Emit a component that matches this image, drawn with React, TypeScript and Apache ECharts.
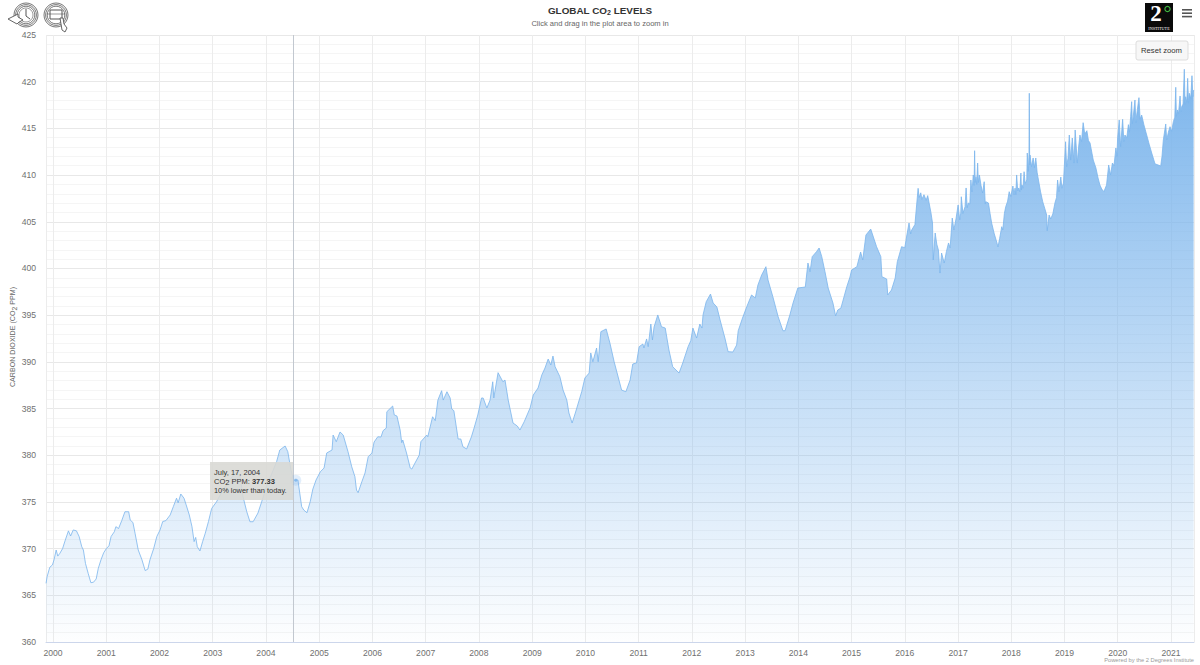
import React, { useEffect, useRef } from "react";
import * as echarts from "echarts";

const FONT = "Arial, 'Liberation Sans', Helvetica, sans-serif";

// [decimal year, CO2 ppm]
const readings2000to2004 = [
  [1999.87,366.28],[1999.89,367.0],[1999.94,368.0],[1999.99,368.25],[2000.02,368.8],[2000.06,369.85],[2000.09,369.2],[2000.13,369.5],[2000.18,370.0],[2000.23,370.9],[2000.29,371.9],[2000.33,371.35],[2000.38,372.0],[2000.44,371.9],[2000.49,371.3],[2000.54,370.2],[2000.57,369.85],[2000.61,368.4],[2000.66,367.35],[2000.71,366.35],[2000.76,366.4],[2000.81,366.75],[2000.85,367.9],[2000.90,368.8],[2000.95,369.55],
  [2001.0,370.0],[2001.05,370.3],[2001.09,371.3],[2001.15,371.8],[2001.18,372.35],[2001.23,372.15],[2001.29,373.0],[2001.35,373.95],[2001.42,373.95],[2001.45,373.05],[2001.50,372.8],[2001.54,371.65],[2001.60,369.85],[2001.67,368.8],[2001.73,367.65],[2001.78,367.8],[2001.82,368.8],[2001.89,370.0],[2001.95,371.3],
  [2002.01,372.0],[2002.06,372.9],[2002.12,373.0],[2002.20,373.6],[2002.26,374.5],[2002.32,375.4],[2002.35,374.9],[2002.40,375.85],[2002.46,375.4],[2002.50,374.7],[2002.56,373.6],[2002.61,372.35],[2002.65,370.75],[2002.68,371.2],[2002.71,370.2],[2002.76,369.75],[2002.81,370.75],[2002.86,371.65],[2002.92,372.9],[2002.98,374.3],
  [2003.07,375.0],[2003.17,376.06],[2003.29,377.13],[2003.42,378.1],[2003.51,377.88],[2003.57,375.56],[2003.64,373.95],[2003.70,372.88],[2003.76,372.88],[2003.85,373.81],[2003.92,375.02],
  [2004.01,376.63],[2004.20,379.31],[2004.26,380.56],[2004.36,380.99],[2004.41,380.38],[2004.47,378.42],[2004.52,377.33],[2004.60,377.35],[2004.67,374.49],[2004.71,374.13],[2004.77,373.84],[2004.83,375.02],[2004.88,376.38],[2004.94,377.35],
];
const readings2005to2009 = [
  [2005.02,378.23],[2005.09,378.63],[2005.14,380.24],[2005.24,380.56],[2005.26,382.16],[2005.32,381.45],[2005.39,382.49],[2005.45,382.16],[2005.54,380.38],[2005.61,378.77],[2005.67,377.7],[2005.70,376.27],[2005.73,375.99],[2005.80,377.16],[2005.86,378.1],[2005.92,379.84],[2005.99,380.24],
  [2006.03,381.41],[2006.10,381.98],[2006.16,381.95],[2006.20,382.63],[2006.26,382.91],[2006.27,384.66],[2006.38,385.27],[2006.41,384.31],[2006.46,384.2],[2006.52,382.7],[2006.55,381.34],[2006.57,381.63],[2006.64,380.24],[2006.71,378.63],[2006.74,378.52],[2006.80,379.17],[2006.88,380.02],[2006.91,381.45],
  [2007.02,382.16],[2007.04,381.98],[2007.13,384.12],[2007.18,383.7],[2007.23,385.91],[2007.30,386.91],[2007.33,385.91],[2007.40,386.8],[2007.46,386.13],[2007.49,384.95],[2007.53,384.77],[2007.61,381.74],[2007.66,381.74],[2007.70,380.91],[2007.77,380.67],[2007.86,381.98],[2007.91,382.91],[2007.98,384.31],
  [2008.05,386.13],[2008.08,386.13],[2008.15,385.06],[2008.21,385.91],[2008.26,387.87],[2008.28,386.13],[2008.36,388.84],[2008.45,387.87],[2008.49,388.05],[2008.55,385.91],[2008.64,383.45],[2008.72,383.13],[2008.77,382.7],[2008.85,383.59],[2008.96,385.06],
  [2009.02,386.45],[2009.11,387.2],[2009.18,388.59],[2009.24,389.34],[2009.30,390.3],[2009.35,389.66],[2009.39,390.62],[2009.43,389.48],[2009.52,388.41],[2009.58,386.98],[2009.65,385.91],[2009.69,384.52],[2009.75,383.45],[2009.81,384.52],[2009.93,386.8],[2009.99,388.27],
];
const readings2010to2014 = [
  [2010.07,388.8],[2010.10,390.95],[2010.14,390.01],[2010.21,391.48],[2010.24,390.01],[2010.29,393.23],[2010.39,393.52],[2010.46,392.02],[2010.54,390.01],[2010.68,386.98],[2010.76,386.8],[2010.84,388.05],[2010.89,389.77],[2010.96,389.88],
  [2011.01,391.62],[2011.08,391.91],[2011.10,391.48],[2011.15,392.45],[2011.18,391.62],[2011.23,394.05],[2011.26,392.34],[2011.29,393.73],[2011.36,395.02],[2011.43,393.76],[2011.50,393.62],[2011.57,391.27],[2011.64,389.48],[2011.76,388.8],[2011.83,389.88],[2011.93,391.62],[2011.98,392.26],
  [2012.02,393.62],[2012.09,392.55],[2012.15,394.05],[2012.19,393.62],[2012.21,395.02],[2012.27,396.44],[2012.35,397.26],[2012.40,396.3],[2012.47,395.87],[2012.53,394.48],[2012.62,392.55],[2012.68,391.09],[2012.77,391.05],[2012.84,391.8],[2012.87,393.33],[2012.95,394.69],
  [2013.03,395.9],[2013.12,397.16],[2013.19,396.84],[2013.24,398.23],[2013.31,399.3],[2013.39,400.19],[2013.43,398.76],[2013.52,396.98],[2013.62,394.83],[2013.71,393.33],[2013.75,393.33],[2013.84,395.02],[2013.90,396.3],[2013.99,397.91],
  [2014.13,398.01],[2014.18,400.58],[2014.22,399.65],[2014.26,401.26],[2014.34,401.79],[2014.39,402.19],[2014.44,401.26],[2014.50,399.65],[2014.56,397.91],[2014.65,396.3],[2014.70,394.91],[2014.74,395.55],[2014.80,395.76],[2014.91,398.05],[2014.97,399.08],
];
const readings2015to2017 = [
  [2015.00,399.83],[2015.10,400.19],[2015.17,401.76],[2015.21,400.91],[2015.27,403.58],[2015.36,404.22],[2015.47,402.33],[2015.55,401.26],[2015.57,399.12],[2015.66,398.87],[2015.68,397.16],[2015.75,397.69],[2015.82,398.98],[2015.86,400.72],[2015.94,402.33],
  [2016.00,402.22],[2016.04,403.6],[2016.08,404.87],[2016.11,403.7],[2016.13,404.12],[2016.19,404.7],[2016.25,408.58],[2016.27,407.6],[2016.30,408.1],[2016.32,407.4],[2016.36,407.9],[2016.40,407.3],[2016.43,407.8],[2016.46,406.9],[2016.49,406.0],[2016.52,404.87],[2016.534,400.91],[2016.57,403.8],[2016.60,402.6],[2016.63,401.98],[2016.66,399.51],[2016.69,401.65],[2016.74,400.58],[2016.78,401.8],[2016.82,402.73],[2016.85,402.2],[2016.89,405.4],[2016.92,404.12],[2016.96,405.3],
  [2017.00,406.8],[2017.03,405.2],[2017.05,405.94],[2017.06,407.68],[2017.09,405.9],[2017.13,406.61],[2017.15,408.62],[2017.17,406.5],[2017.19,407.01],[2017.22,406.9],[2017.24,409.47],[2017.26,408.2],[2017.285,410.01],[2017.30,408.9],[2017.31,412.61],[2017.32,409.2],[2017.336,409.83],[2017.35,409.0],[2017.367,411.29],[2017.38,409.2],[2017.40,410.01],[2017.43,408.9],[2017.46,408.08],[2017.49,409.29],[2017.51,406.9],[2017.52,407.15],[2017.57,407.01],[2017.60,405.9],[2017.63,404.87],[2017.68,403.7],[2017.725,402.83],[2017.75,402.3],[2017.78,403.2],[2017.82,404.47],[2017.84,404.12],[2017.87,405.9],[2017.895,406.61],[2017.93,407.2],[2017.96,408.22],[2017.99,407.7],
];
const readings2018to2021 = [
  [2018.03,408.83],[2018.05,407.9],[2018.07,408.6],[2018.085,407.9],[2018.10,410.01],[2018.12,408.3],[2018.14,408.62],[2018.16,408.2],[2018.18,410.22],[2018.19,408.4],[2018.20,408.94],[2018.22,408.6],[2018.24,410.36],[2018.26,409.1],[2018.29,409.47],[2018.30,412.36],[2018.32,410.4],[2018.332,412.15],[2018.338,418.76],[2018.345,411.1],[2018.351,412.15],[2018.38,410.9],[2018.41,411.83],[2018.435,410.8],[2018.46,411.83],[2018.485,410.3],[2018.51,409.47],[2018.55,408.2],[2018.59,407.15],[2018.63,406.4],[2018.664,405.72],[2018.675,404.04],[2018.71,405.72],[2018.74,405.3],[2018.78,405.83],[2018.82,407.01],[2018.85,407.6],[2018.87,409.47],[2018.895,408.22],[2018.93,409.79],[2018.95,408.6],[2018.98,409.15],
  [2019.02,413.57],[2019.04,410.9],[2019.065,411.8],[2019.09,414.29],[2019.115,411.61],[2019.146,413.97],[2019.178,411.29],[2019.20,414.83],[2019.24,411.29],[2019.265,413.0],[2019.29,414.29],[2019.32,413.6],[2019.35,415.61],[2019.38,414.4],[2019.42,414.75],[2019.45,413.7],[2019.48,413.43],[2019.54,411.61],[2019.59,410.76],[2019.63,409.7],[2019.665,408.94],[2019.70,408.5],[2019.74,408.22],[2019.79,408.94],[2019.83,411.08],[2019.866,410.01],[2019.90,411.29],[2019.93,411.0],[2019.966,412.9],[2019.985,412.0],[2019.998,413.97],
  [2020.028,415.9],[2020.054,413.04],[2020.092,415.97],[2020.115,413.6],[2020.135,414.29],[2020.17,414.0],[2020.20,415.4],[2020.22,414.6],[2020.242,416.25],[2020.261,417.86],[2020.275,415.5],[2020.291,416.25],[2020.323,418.04],[2020.34,415.6],[2020.355,416.43],[2020.398,418.29],[2020.42,416.0],[2020.449,416.43],[2020.49,415.4],[2020.543,414.29],[2020.59,413.3],[2020.637,412.36],[2020.70,411.19],[2020.75,411.1],[2020.806,410.97],[2020.83,412.0],[2020.855,413.76],[2020.90,415.47],[2020.918,413.76],[2020.95,414.6],[2020.98,415.18],[2021.01,414.7],
  [2021.043,415.72],[2021.07,416.2],[2021.088,419.4],[2021.10,416.3],[2021.118,416.97],[2021.14,416.6],[2021.169,418.47],[2021.185,416.8],[2021.20,417.32],[2021.225,417.6],[2021.249,421.33],[2021.262,417.6],[2021.275,418.39],[2021.295,417.8],[2021.312,420.36],[2021.328,417.7],[2021.343,418.76],[2021.37,418.2],[2021.393,420.64],[2021.41,418.4],[2021.424,419.11],
];
const highlightYear = [2004.56, 377.33];
const crosshairYear = 2004.52;
const axisStartYear = 1999.869;
const axisEndYear = 2021.431;
const tooltipLines = ["July, 17, 2004", "10% lower than today."];

function toMs(decimalYear: number) {
  const y = Math.floor(decimalYear);
  const a = Date.UTC(y, 0, 1);
  const b = Date.UTC(y + 1, 0, 1);
  return a + (decimalYear - y) * (b - a);
}

const seriesData = [
  ...readings2000to2004,
  ...readings2005to2009,
  ...readings2010to2014,
  ...readings2015to2017,
  ...readings2018to2021,
].map(([t, v]) => [toMs(t), v]);

const INK = "#555555";

function icons() {
  const ringSet = (cx: number, cy: number) =>
    [12, 10.4, 8.8].map((r) => ({
      type: "circle",
      shape: { cx, cy, r },
      style: { fill: "none", stroke: INK, lineWidth: 0.8 },
    }));
  return [
    ...ringSet(26, 15),
    { type: "circle", shape: { cx: 26, cy: 15, r: 7 }, style: { fill: "#fff", stroke: INK, lineWidth: 0.6 } },
    { type: "polyline", shape: { points: [[26, 9], [26, 16], [30, 19]] }, style: { stroke: INK, lineWidth: 1, fill: "none" } },
    { type: "polygon", shape: { points: [[8, 19], [18, 14], [18, 17], [23, 20], [19, 22], [17, 24]] }, style: { fill: "#fff", stroke: INK, lineWidth: 0.9 } },
    ...ringSet(56, 15),
    { type: "rect", shape: { x: 50, y: 10, width: 12, height: 9 }, style: { fill: "#fff", stroke: INK, lineWidth: 1 } },
    { type: "line", shape: { x1: 47, y1: 14, x2: 65, y2: 14 }, style: { stroke: INK, lineWidth: 0.6 } },
    { type: "polygon", shape: { points: [[60, 18], [63, 18], [64, 24], [67, 28], [65, 32], [62, 30], [61, 24]] }, style: { fill: "#fff", stroke: INK, lineWidth: 0.9 } },
  ];
}

function logo() {
  return [
    { type: "rect", shape: { x: 1145, y: 3, width: 28, height: 29 }, style: { fill: "#0a0a0a" } },
    { type: "text", x: 1156, y: 13.6, style: { text: "2", fill: "#fff", font: "bold 23px 'Liberation Serif', serif", textAlign: "center", textVerticalAlign: "middle" } },
    { type: "circle", shape: { cx: 1167.5, cy: 9, r: 2.6 }, style: { fill: "none", stroke: "#3fb53f", lineWidth: 1.2 } },
    { type: "text", x: 1159, y: 28.6, style: { text: "INSTITUTE", fill: "#fff", font: `4.2px 'Liberation Serif', serif`, textAlign: "center", textVerticalAlign: "middle" } },
    { type: "rect", shape: { x: 1182, y: 9, width: 10, height: 1.6 }, style: { fill: "#555" } },
    { type: "rect", shape: { x: 1182, y: 12.4, width: 10, height: 1.6 }, style: { fill: "#555" } },
    { type: "rect", shape: { x: 1182, y: 15.8, width: 10, height: 1.6 }, style: { fill: "#555" } },
  ];
}

const SUB = { verticalAlign: "bottom", padding: [3, 0, 0, 0] };

function overlays() {
  return [
    { type: "rect", z: 50, shape: { x: 1136, y: 41, width: 52, height: 19, r: 2 }, style: { fill: "#f7f7f7", stroke: "#dddddd", lineWidth: 1 } },
    { type: "text", z: 51, x: 1161.5, y: 50.5, style: { text: "Reset zoom", fill: "#333", font: `7.7px ${FONT}`, textAlign: "center", textVerticalAlign: "middle" } },
    { type: "rect", z: 50, shape: { x: 210, y: 462, width: 83, height: 38 }, style: { fill: "rgba(216,216,212,0.88)" } },
    { type: "text", z: 51, x: 214, y: 472, style: { text: tooltipLines[0], fill: "#333", font: `7.5px ${FONT}`, textVerticalAlign: "middle" } },
    {
      type: "text", z: 51, x: 214, y: 481,
      style: {
        text: "CO{s|2} PPM: {b|377.33}",
        fill: "#333", font: `7.5px ${FONT}`, textVerticalAlign: "middle",
        rich: {
          s: { fontSize: 7.5, fontFamily: FONT, fill: "#333", ...SUB },
          b: { fontSize: 7.5, fontFamily: FONT, fontWeight: "bold", fill: "#333" },
        },
      },
    },
    { type: "text", z: 51, x: 214, y: 490, style: { text: tooltipLines[1], fill: "#333", font: `7.4px ${FONT}`, textVerticalAlign: "middle" } },
    { type: "text", z: 51, x: 1194, y: 660, style: { text: "Powered by the 2 Degrees Institute", fill: "#999", font: `5.75px ${FONT}`, textAlign: "right", textVerticalAlign: "middle" } },
    { type: "text", z: 51, x: 600, y: 23, style: { text: "Click and drag in the plot area to zoom in", fill: "#666", font: `7.55px ${FONT}`, textAlign: "center", textVerticalAlign: "middle" } },
    {
      type: "text", z: 51, x: 600, y: 10,
      style: {
        text: "GLOBAL CO{s|2} LEVELS",
        fill: "#333", font: `bold 9.9px ${FONT}`, textAlign: "center", textVerticalAlign: "middle",
        rich: { s: { fontSize: 7, fontWeight: "bold", fontFamily: FONT, fill: "#333", verticalAlign: "bottom", padding: [4, 0, 0, 0] } },
      },
    },
    {
      type: "text", z: 51, x: 13, y: 337, rotation: Math.PI / 2,
      style: {
        text: "CARBON DIOXIDE (CO{s|2} PPM)",
        fill: "#666", font: `7.1px ${FONT}`, textAlign: "center", textVerticalAlign: "middle",
        rich: { s: { fontSize: 7.1, fontFamily: FONT, fill: "#666", ...SUB } },
      },
    },
  ];
}

export default function App() {
  const ref = useRef<HTMLDivElement>(null);
  useEffect(() => {
    document.body.style.margin = "0";
    const chart = echarts.init(ref.current!, undefined, { renderer: "svg" });
    chart.setOption({
      animation: false,
      useUTC: true,
      backgroundColor: "#fff",
      grid: { left: 46, right: 6, top: 35, height: 607, containLabel: false },
      xAxis: {
        type: "time",
        min: toMs(axisStartYear),
        max: toMs(axisEndYear),
        minInterval: 365 * 86400000,
        splitNumber: 22,
        axisLine: { show: true, lineStyle: { color: "#ccd6eb", width: 1 } },
        axisTick: { show: false },
        axisLabel: {
          color: "#707070", fontSize: 8.6, fontFamily: FONT, margin: 6,
          showMinLabel: false, showMaxLabel: false,
          formatter: (v: number) => String(new Date(v).getUTCFullYear()),
        },
        splitLine: { show: true, lineStyle: { color: "#ececec", width: 1 } },
        minorTick: { show: false },
      },
      yAxis: {
        type: "value",
        min: 360,
        max: 425,
        interval: 5,
        axisLine: { show: false },
        axisTick: { show: false },
        axisLabel: { color: "#707070", fontSize: 8.6, fontFamily: FONT, margin: 10 },
        splitLine: { show: true, lineStyle: { color: "#e8e8e8", width: 1 } },
        minorTick: { show: false, splitNumber: 5 },
        minorSplitLine: { show: true, lineStyle: { color: "#f5f5f5", width: 1 } },
      },
      graphic: { elements: [...icons(), ...logo(), ...overlays()] },
      series: [
        {
          type: "line",
          data: seriesData,
          showSymbol: false,
          symbol: "none",
          smooth: false,
          lineStyle: { color: "#7cb5ec", width: 1, opacity: 0.8 },
          areaStyle: {
            opacity: 1,
            color: new echarts.graphic.LinearGradient(0, 0, 0, 1, [
              { offset: 0, color: "rgba(124,181,236,1)" },
              { offset: 1, color: "rgba(124,181,236,0.01)" },
            ]),
          },
          markLine: {
            silent: true,
            symbol: "none",
            label: { show: false },
            lineStyle: { color: "#c2c8d0", width: 1, type: "solid" },
            data: [{ xAxis: toMs(crosshairYear) }],
          },
        },
        {
          type: "scatter",
          data: [[toMs(highlightYear[0]), highlightYear[1]]],
          symbolSize: 11,
          silent: true,
          z: 20,
          itemStyle: { color: "rgba(124,181,236,0.28)" },
        },
        {
          type: "scatter",
          data: [[toMs(highlightYear[0]), highlightYear[1]]],
          symbolSize: 3,
          silent: true,
          z: 21,
          itemStyle: { color: "#7cb5ec" },
        },
      ],
    });
    return () => chart.dispose();
  }, []);
  return <div ref={ref} style={{ width: 1200, height: 665 }} />;
}
